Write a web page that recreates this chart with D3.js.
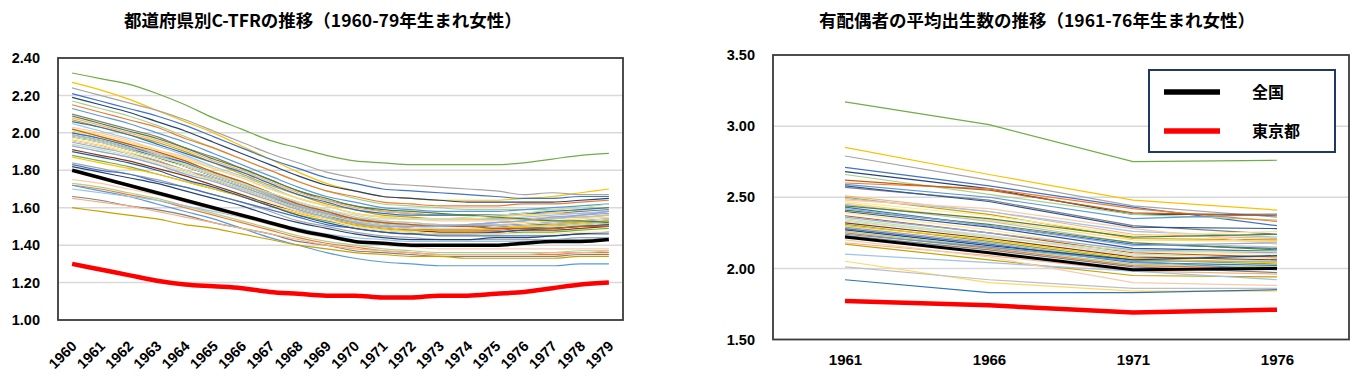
<!DOCTYPE html>
<html>
<head>
<meta charset="utf-8">
<script src="https://cdn.jsdelivr.net/npm/d3@7"></script>
<style>
  body { margin: 0; background: #fff; }
  svg { display: block; }
</style>
</head>
<body>
<script>
// left chart: C-TFR by prefecture, 1960-79 cohorts
const ctfrYears = d3.range(1960, 1980).map(String);
const ctfrTicks = [1.0, 1.2, 1.4, 1.6, 1.8, 2.0, 2.2, 2.4];
const ctfrNational = [1.80,1.76,1.72,1.68,1.64,1.60,1.56,1.52,1.48,1.45,1.42,1.41,1.40,1.40,1.40,1.40,1.41,1.42,1.42,1.43];
const ctfrTokyo = [1.30,1.27,1.24,1.21,1.19,1.18,1.17,1.15,1.14,1.13,1.13,1.12,1.12,1.13,1.13,1.14,1.15,1.17,1.19,1.20];
const ctfrPrefs = [
  [2.32,2.29,2.26,2.21,2.15,2.08,2.02,1.96,1.92,1.88,1.85,1.84,1.83,1.83,1.83,1.83,1.84,1.86,1.88,1.89],
  [2.27,2.23,2.18,2.12,2.06,2.00,1.93,1.86,1.79,1.73,1.69,1.66,1.65,1.64,1.64,1.64,1.65,1.66,1.68,1.70],
  [2.24,2.20,2.16,2.12,2.07,2.01,1.95,1.89,1.84,1.79,1.76,1.73,1.72,1.71,1.70,1.69,1.67,1.68,1.67,1.67],
  [2.21,2.17,2.13,2.09,2.04,1.98,1.92,1.86,1.81,1.76,1.73,1.70,1.69,1.68,1.67,1.66,1.65,1.65,1.66,1.66],
  [2.19,2.15,2.11,2.06,2.01,1.95,1.89,1.83,1.77,1.72,1.69,1.66,1.65,1.64,1.63,1.63,1.63,1.63,1.64,1.65],
  [2.17,2.13,2.09,2.04,1.98,1.92,1.86,1.80,1.74,1.69,1.65,1.62,1.61,1.60,1.59,1.59,1.59,1.59,1.60,1.60],
  [2.15,2.11,2.07,2.03,1.97,1.92,1.86,1.80,1.74,1.69,1.66,1.63,1.62,1.61,1.61,1.61,1.62,1.62,1.63,1.64],
  [2.13,2.09,2.05,2.00,1.95,1.89,1.83,1.77,1.71,1.66,1.63,1.60,1.59,1.58,1.58,1.58,1.59,1.60,1.61,1.62],
  [2.10,2.06,2.02,1.98,1.92,1.87,1.81,1.75,1.69,1.64,1.61,1.58,1.57,1.56,1.56,1.56,1.57,1.57,1.58,1.59],
  [2.08,2.04,2.00,1.96,1.91,1.85,1.80,1.74,1.68,1.64,1.60,1.58,1.57,1.56,1.56,1.56,1.56,1.57,1.57,1.58],
  [2.07,2.03,1.99,1.95,1.90,1.84,1.78,1.72,1.67,1.62,1.59,1.56,1.55,1.54,1.54,1.54,1.54,1.55,1.55,1.56],
  [2.05,2.01,1.97,1.93,1.88,1.82,1.77,1.71,1.65,1.61,1.57,1.55,1.54,1.54,1.54,1.54,1.55,1.56,1.57,1.58],
  [2.03,2.00,1.96,1.91,1.87,1.81,1.76,1.70,1.65,1.61,1.57,1.55,1.54,1.53,1.53,1.53,1.54,1.55,1.55,1.56],
  [2.01,1.98,1.94,1.89,1.85,1.79,1.74,1.68,1.63,1.59,1.55,1.53,1.52,1.51,1.51,1.51,1.52,1.53,1.54,1.55],
  [2.00,1.97,1.93,1.89,1.84,1.79,1.74,1.68,1.63,1.59,1.55,1.53,1.52,1.51,1.51,1.51,1.51,1.52,1.52,1.53],
  [2.00,1.97,1.93,1.88,1.84,1.78,1.73,1.67,1.62,1.58,1.54,1.52,1.51,1.50,1.50,1.50,1.51,1.51,1.52,1.53],
  [1.99,1.96,1.92,1.87,1.82,1.77,1.72,1.66,1.60,1.56,1.52,1.50,1.49,1.48,1.48,1.49,1.49,1.50,1.51,1.52],
  [1.98,1.95,1.91,1.87,1.82,1.77,1.72,1.66,1.61,1.57,1.53,1.51,1.50,1.50,1.50,1.50,1.51,1.52,1.53,1.54],
  [1.97,1.94,1.90,1.86,1.82,1.77,1.72,1.66,1.61,1.57,1.54,1.52,1.51,1.50,1.50,1.49,1.49,1.49,1.50,1.50],
  [1.96,1.93,1.89,1.85,1.80,1.75,1.70,1.65,1.60,1.56,1.52,1.50,1.49,1.48,1.48,1.48,1.49,1.49,1.50,1.51],
  [1.95,1.92,1.89,1.85,1.80,1.76,1.71,1.66,1.61,1.57,1.54,1.52,1.51,1.51,1.51,1.52,1.53,1.54,1.56,1.57],
  [1.94,1.91,1.88,1.84,1.79,1.75,1.70,1.65,1.60,1.56,1.53,1.51,1.50,1.49,1.49,1.49,1.50,1.50,1.51,1.52],
  [1.93,1.90,1.87,1.83,1.78,1.74,1.69,1.64,1.59,1.55,1.52,1.50,1.49,1.49,1.49,1.50,1.51,1.52,1.53,1.54],
  [1.91,1.88,1.85,1.81,1.77,1.72,1.67,1.62,1.58,1.54,1.51,1.49,1.48,1.47,1.47,1.47,1.48,1.48,1.49,1.50],
  [1.88,1.85,1.82,1.78,1.74,1.70,1.66,1.61,1.56,1.53,1.50,1.48,1.47,1.46,1.46,1.46,1.47,1.47,1.48,1.49],
  [1.87,1.84,1.81,1.78,1.74,1.70,1.66,1.61,1.57,1.54,1.51,1.49,1.48,1.48,1.48,1.49,1.50,1.51,1.52,1.53],
  [1.84,1.81,1.78,1.75,1.71,1.67,1.63,1.58,1.53,1.50,1.47,1.45,1.44,1.43,1.43,1.43,1.43,1.43,1.44,1.44],
  [1.83,1.80,1.78,1.74,1.71,1.67,1.63,1.59,1.55,1.51,1.49,1.47,1.46,1.45,1.45,1.45,1.45,1.45,1.46,1.46],
  [1.82,1.79,1.76,1.73,1.69,1.65,1.61,1.56,1.52,1.49,1.46,1.44,1.43,1.43,1.43,1.44,1.44,1.45,1.46,1.47],
  [1.73,1.71,1.68,1.65,1.61,1.57,1.53,1.49,1.45,1.42,1.40,1.38,1.37,1.36,1.36,1.36,1.36,1.36,1.37,1.37],
  [1.72,1.70,1.67,1.64,1.60,1.56,1.52,1.48,1.44,1.41,1.39,1.37,1.36,1.35,1.35,1.35,1.35,1.35,1.36,1.36],
  [1.72,1.69,1.66,1.62,1.58,1.54,1.49,1.44,1.40,1.36,1.33,1.31,1.30,1.29,1.29,1.29,1.29,1.29,1.30,1.30],
  [1.66,1.64,1.61,1.59,1.56,1.52,1.49,1.46,1.42,1.40,1.37,1.36,1.35,1.34,1.34,1.34,1.34,1.34,1.35,1.35],
  [1.65,1.63,1.61,1.58,1.55,1.52,1.49,1.46,1.43,1.40,1.38,1.37,1.36,1.35,1.35,1.35,1.35,1.36,1.36,1.37],
  [1.60,1.58,1.56,1.54,1.51,1.49,1.46,1.43,1.40,1.38,1.36,1.35,1.34,1.34,1.33,1.33,1.33,1.33,1.34,1.34],
  [1.70,1.68,1.66,1.64,1.61,1.58,1.55,1.52,1.49,1.46,1.44,1.43,1.42,1.42,1.42,1.42,1.42,1.43,1.43,1.44],
  [1.75,1.73,1.70,1.67,1.63,1.59,1.55,1.51,1.47,1.44,1.42,1.40,1.39,1.38,1.38,1.38,1.38,1.38,1.38,1.38],
  [2.02,1.99,1.95,1.91,1.86,1.81,1.76,1.70,1.65,1.61,1.57,1.55,1.54,1.54,1.54,1.55,1.56,1.57,1.59,1.60],
  [1.99,1.96,1.92,1.88,1.83,1.78,1.73,1.67,1.62,1.58,1.54,1.52,1.51,1.51,1.51,1.52,1.53,1.54,1.55,1.56],
  [2.06,2.03,1.99,1.94,1.89,1.84,1.79,1.73,1.67,1.63,1.59,1.57,1.56,1.56,1.56,1.56,1.57,1.58,1.59,1.60],
  [2.09,2.05,2.01,1.97,1.92,1.86,1.81,1.75,1.69,1.65,1.61,1.59,1.58,1.57,1.56,1.55,1.54,1.53,1.53,1.52],
  [1.90,1.87,1.84,1.80,1.75,1.71,1.66,1.61,1.56,1.52,1.49,1.47,1.46,1.46,1.46,1.47,1.48,1.49,1.50,1.51],
  [1.96,1.93,1.89,1.84,1.80,1.74,1.69,1.63,1.58,1.54,1.50,1.48,1.47,1.46,1.46,1.46,1.46,1.46,1.47,1.47],
  [2.02,1.98,1.94,1.90,1.85,1.79,1.74,1.68,1.62,1.58,1.54,1.52,1.51,1.50,1.50,1.49,1.49,1.49,1.50,1.50],
  [1.93,1.90,1.87,1.83,1.78,1.74,1.69,1.64,1.59,1.55,1.52,1.50,1.50,1.50,1.51,1.52,1.53,1.55,1.56,1.58],
  [1.98,1.95,1.91,1.87,1.83,1.78,1.73,1.68,1.63,1.59,1.56,1.54,1.54,1.54,1.55,1.56,1.57,1.59,1.60,1.62]
];

// right chart: completed births of married women, 1961-76 cohorts
const birthYears = ['1961', '1966', '1971', '1976'];
const birthTicks = [1.5, 2.0, 2.5, 3.0, 3.5];
const birthNational = [2.22, 2.11, 1.99, 2.00];
const birthTokyo = [1.77, 1.74, 1.69, 1.71];
const birthPrefs = [
  [3.17,3.01,2.75,2.76], [2.85,2.66,2.48,2.41], [2.79,2.62,2.44,2.36], [2.71,2.58,2.43,2.30],
  [2.68,2.56,2.38,2.38], [2.66,2.52,2.38,2.34], [2.60,2.56,2.42,2.33], [2.59,2.50,2.35,2.38],
  [2.57,2.48,2.30,2.24], [2.51,2.40,2.24,2.21], [2.50,2.38,2.21,2.20], [2.49,2.40,2.26,2.22],
  [2.48,2.42,2.28,2.17], [2.46,2.34,2.20,2.19], [2.45,2.33,2.18,2.15], [2.43,2.30,2.17,2.14],
  [2.41,2.31,2.18,2.13], [2.40,2.29,2.14,2.12], [2.39,2.27,2.12,2.10], [2.37,2.25,2.11,2.08],
  [2.36,2.25,2.13,2.11], [2.35,2.23,2.10,2.07], [2.33,2.23,2.09,2.05], [2.32,2.21,2.08,2.06],
  [2.31,2.19,2.06,2.03], [2.30,2.20,2.07,2.04], [2.29,2.18,2.05,2.05], [2.28,2.17,2.04,2.02],
  [2.27,2.16,2.06,2.09], [2.26,2.15,2.03,2.01], [2.25,2.14,2.02,2.00], [2.24,2.15,2.05,1.99],
  [2.23,2.13,2.01,1.97], [2.18,2.09,1.98,1.96], [2.17,2.06,1.95,1.94], [2.10,2.04,1.98,1.92],
  [2.20,2.08,1.90,1.88], [2.05,1.90,1.84,1.84], [2.01,1.92,1.86,1.86], [1.92,1.83,1.83,1.85],
  [2.44,2.35,2.22,2.24], [2.58,2.47,2.29,2.28], [2.47,2.37,2.23,2.26], [2.62,2.55,2.39,2.37],
  [2.42,2.30,2.16,2.18], [2.34,2.22,2.12,2.12]
];

const legendLabels = ['全国', '東京都'];

// excel-like series colours
const palette = ['#70AD47', '#FFC000', '#A5A5A5', '#4472C4', '#264478', '#A9D18E',
  '#ED7D31', '#5B9BD5', '#7F7F7F', '#F4B183', '#C9A000', '#9DC3E6',
  '#F8CBAD', '#FFD966', '#BFBFBF', '#2E75B6', '#548235', '#2F5597',
  '#FFE699', '#C55A11', '#8FAADC', '#C5E0B4', '#D9D9D9', '#843C0C'];

const svg = d3.select('body').append('svg')
  .attr('width', 1360)
  .attr('height', 376);

const numFont = "'Liberation Sans', Arial, sans-serif";
const jpFont = "'Noto Sans CJK JP', sans-serif";

function drawChart(opt) {
  const x = d3.scalePoint().domain(opt.years).range([opt.left, opt.right]).padding(0.5);
  const y = d3.scaleLinear().domain(opt.domain).range([opt.bottom, opt.top]);

  const g = svg.append('g');

  // gridlines
  g.selectAll('.grid')
    .data(opt.ticks.slice(1, -1))
    .enter().append('line')
    .attr('x1', opt.left).attr('x2', opt.right)
    .attr('y1', d => y(d)).attr('y2', d => y(d))
    .attr('stroke', '#D9D9D9')
    .attr('stroke-width', 1.5);

  const line = d3.line()
    .x((d, i) => x(opt.years[i]))
    .y(d => y(d))
    .curve(opt.curve);

  g.selectAll('.pref')
    .data(opt.prefs)
    .enter().append('path')
    .attr('d', line)
    .attr('fill', 'none')
    .attr('stroke', (d, i) => palette[i % palette.length])
    .attr('stroke-width', 1.2);

  g.append('path')
    .datum(opt.national)
    .attr('d', line)
    .attr('fill', 'none')
    .attr('stroke', '#000')
    .attr('stroke-width', opt.natWidth);

  g.append('path')
    .datum(opt.tokyo)
    .attr('d', line)
    .attr('fill', 'none')
    .attr('stroke', '#FF0000')
    .attr('stroke-width', 4.5);

  // frame
  g.append('rect')
    .attr('x', opt.left).attr('y', opt.top)
    .attr('width', opt.right - opt.left).attr('height', opt.bottom - opt.top)
    .attr('fill', 'none')
    .attr('stroke', '#3A3A3A')
    .attr('stroke-width', 1.8);

  // y axis
  const yAxis = g.append('g')
    .attr('transform', `translate(${opt.left},0)`)
    .call(d3.axisLeft(y).tickValues(opt.ticks).tickFormat(d3.format('.2f')).tickSize(0).tickPadding(opt.left - opt.yLabelEnd));
  yAxis.select('.domain').remove();
  yAxis.selectAll('text')
    .attr('font-family', numFont)
    .attr('font-weight', 'bold')
    .attr('font-size', '14.5px')
    .attr('fill', '#000');

  // x axis
  const xAxis = g.append('g')
    .attr('transform', `translate(0,${opt.bottom})`)
    .call(d3.axisBottom(x).tickSize(0).tickPadding(opt.xPad));
  xAxis.select('.domain').remove();
  const xt = xAxis.selectAll('text')
    .attr('font-family', numFont)
    .attr('font-weight', 'bold')
    .attr('font-size', '15px')
    .attr('fill', '#000');
  if (opt.rotate) {
    xt.attr('x', 0).attr('y', 0).attr('dy', 0)
      .attr('font-size', '14.5px')
      .style('text-anchor', 'end')
      .attr('transform', 'translate(5,27) rotate(-45)');
  }

  svg.append('text')
    .attr('x', opt.titleX)
    .attr('y', 27)
    .attr('font-family', jpFont)
    .attr('font-weight', 'bold')
    .attr('font-size', '17.5px')
    .attr('fill', '#000')
    .text(opt.title);
}

drawChart({
  years: ctfrYears, domain: [1.0, 2.4], ticks: ctfrTicks,
  prefs: ctfrPrefs, national: ctfrNational, tokyo: ctfrTokyo,
  left: 58, right: 623, top: 58, bottom: 320,
  yLabelEnd: 40, xPad: 0, rotate: true, natWidth: 3.5,
  curve: d3.curveMonotoneX,
  title: '都道府県別C-TFRの推移（1960-79年生まれ女性）', titleX: 124,
});

drawChart({
  years: birthYears, domain: [1.5, 3.5], ticks: birthTicks,
  prefs: birthPrefs, national: birthNational, tokyo: birthTokyo,
  left: 773, right: 1349, top: 55, bottom: 339.5,
  yLabelEnd: 755, xPad: 15, rotate: false, natWidth: 3,
  curve: d3.curveLinear,
  title: '有配偶者の平均出生数の推移（1961-76年生まれ女性）', titleX: 819,
});

// legend on the right chart
const legend = svg.append('g');
legend.append('rect')
  .attr('x', 1149).attr('y', 70)
  .attr('width', 186).attr('height', 82)
  .attr('fill', '#fff')
  .attr('stroke', '#1F3864')
  .attr('stroke-width', 2);

const legendColors = ['#000', '#FF0000'];
legendLabels.forEach((label, i) => {
  const ly = 92 + i * 39;
  legend.append('line')
    .attr('x1', 1164).attr('x2', 1220)
    .attr('y1', ly).attr('y2', ly)
    .attr('stroke', legendColors[i])
    .attr('stroke-width', 5.5);
  legend.append('text')
    .attr('x', 1252).attr('y', ly)
    .attr('dy', '0.35em')
    .attr('font-family', jpFont)
    .attr('font-weight', 'bold')
    .attr('font-size', '16px')
    .text(label);
});
</script>
</body>
</html>
